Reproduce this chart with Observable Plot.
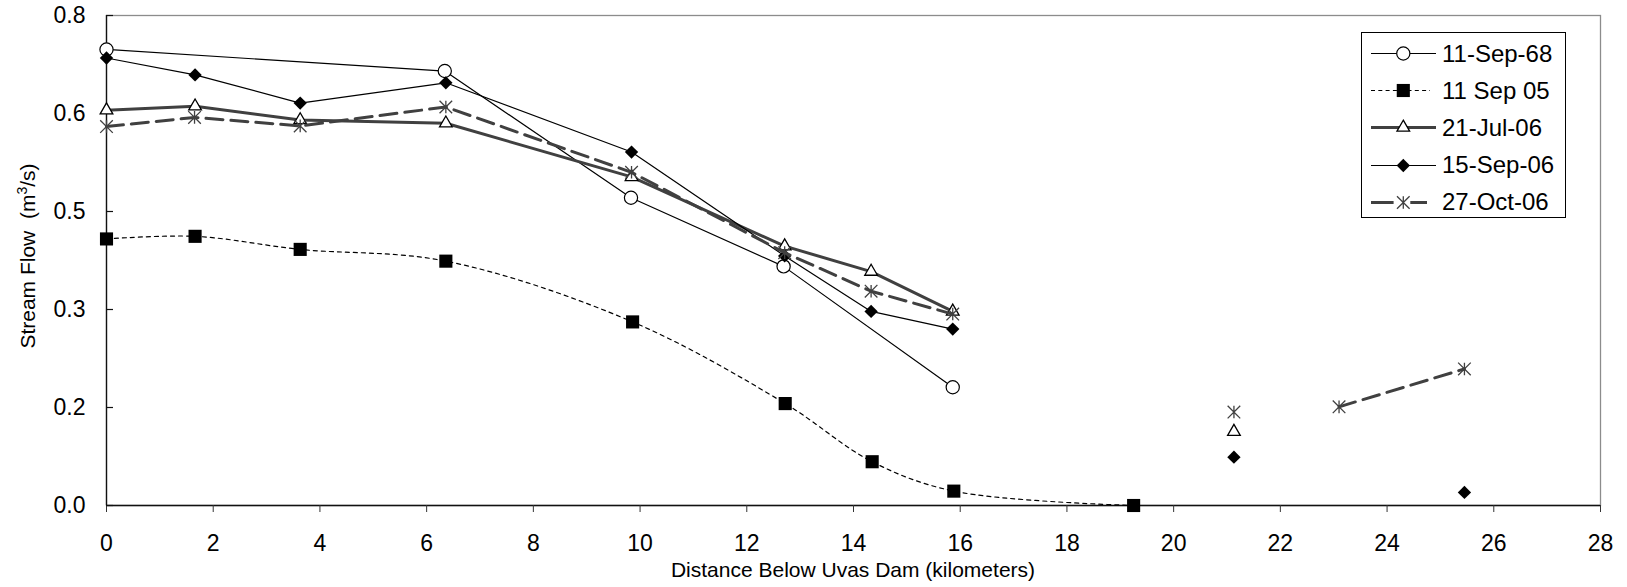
<!DOCTYPE html>
<html>
<head>
<meta charset="utf-8">
<script src="https://cdn.jsdelivr.net/npm/d3@7"></script>
<script src="https://cdn.jsdelivr.net/npm/@observablehq/plot@0.6"></script>
<style>
  body { margin: 0; background: #fff; }
  #chart { position: relative; width: 1627px; height: 587px; font-family: "Liberation Sans", Arial, sans-serif; color: #000; }
  .ytitle { position: absolute; left: 28px; top: 256px; transform: translate(-50%, -50%) rotate(-90deg); font-size: 21px; white-space: nowrap; }
  .ytitle sup { font-size: 14px; vertical-align: 8px; line-height: 0; }
  .xtitle { position: absolute; left: 853px; top: 570px; transform: translate(-50%, -50%); font-size: 21px; white-space: nowrap; }
  .legend { position: absolute; left: 1361px; top: 32px; width: 205px; height: 186px; box-sizing: border-box; border: 1px solid #000; background: #fff; padding-top: 2px; }
  .row { display: flex; align-items: center; height: 37.2px; }
  .row svg { flex: none; display: block; }
  .row span { font-size: 24px; line-height: 1; white-space: nowrap; }
</style>
</head>
<body>
<div id="chart"></div>
<script>
// ---------------- data ----------------
const seriesNames = ["11-Sep-68", "11 Sep 05", "21-Jul-06", "15-Sep-06", "27-Oct-06"];

const dist1968 = [0, 6.34, 9.83, 12.69, 15.86];
const flow1968 = [0.698, 0.665, 0.471, 0.366, 0.181];

const dist2005 = [0, 1.66, 3.63, 6.36, 9.86, 12.72, 14.35, 15.88, 19.25];
const flow2005 = [0.408, 0.412, 0.392, 0.374, 0.281, 0.156, 0.067, 0.022, 0.0];

const distJul06 = [0, 1.66, 3.63, 6.36, 9.84, 12.71, 14.33, 15.86, null, 21.13];
const flowJul06 = [0.605, 0.611, 0.590, 0.585, 0.503, 0.397, 0.358, 0.297, null, 0.113];

const distSep06 = [0, 1.66, 3.63, 6.36, 9.84, 12.71, 14.33, 15.86, null, 21.13, null, 25.45];
const flowSep06 = [0.685, 0.659, 0.616, 0.647, 0.541, 0.382, 0.297, 0.270, null, 0.074, null, 0.020];

const distOct06 = [0, 1.65, 3.63, 6.36, 9.84, 12.71, 14.33, 15.86, null, 21.13, null, 23.10, 25.45];
const flowOct06 = [0.580, 0.594, 0.581, 0.610, 0.510, 0.387, 0.328, 0.293, null, 0.143, null, 0.151, 0.209];

const xTicks = [0, 2, 4, 6, 8, 10, 12, 14, 16, 18, 20, 22, 24, 26, 28];
const yTicks = [0, 0.15, 0.30, 0.45, 0.60, 0.75];
const yTickLabels = ["0.0", "0.2", "0.3", "0.5", "0.6", "0.8"];

const xTitle = "Distance Below Uvas Dam (kilometers)";

// ---------------- table ----------------
const seriesData = [
  {name: seriesNames[0], dist: dist1968, flow: flow1968},
  {name: seriesNames[1], dist: dist2005, flow: flow2005},
  {name: seriesNames[2], dist: distJul06, flow: flowJul06},
  {name: seriesNames[3], dist: distSep06, flow: flowSep06},
  {name: seriesNames[4], dist: distOct06, flow: flowOct06}
];
const table = seriesData.flatMap(s => s.dist.map((d, i) => ({series: s.name, dist: d, flow: s.flow[i]})));

// ---------------- styles ----------------
const asterisk = {
  draw(ctx, size) {
    const h = Math.sqrt(size / Math.PI);
    ctx.moveTo(0, -h); ctx.lineTo(0, h);
    ctx.moveTo(-h, -h); ctx.lineTo(h, h);
    ctx.moveTo(-h, h); ctx.lineTo(h, -h);
  }
};
const styles = {
  "11-Sep-68": {stroke: "#000", width: 1.2, dash: null, curve: "linear", symbol: "circle", d3sym: d3.symbolCircle, r: 6.6, fill: "#fff", mstroke: "#000", mwidth: 1.2, legDash: null, legX2: 74},
  "11 Sep 05": {stroke: "#000", width: 1.2, dash: "4,4", curve: "catmull-rom", symbol: "square", d3sym: d3.symbolSquare, r: 7.4, fill: "#000", mstroke: "none", mwidth: 0, legDash: "4,3.3", legX2: 68},
  "21-Jul-06": {stroke: "#404040", width: 3, dash: null, curve: "linear", symbol: "triangle", d3sym: d3.symbolTriangle, r: 4.7, fill: "#fff", mstroke: "#000", mwidth: 1.3, legDash: null, legX2: 74},
  "15-Sep-06": {stroke: "#000", width: 1.2, dash: null, curve: "linear", symbol: "diamond2", d3sym: d3.symbolDiamond2, r: 6.0, fill: "#000", mstroke: "none", mwidth: 0, legDash: null, legX2: 74},
  "27-Oct-06": {stroke: "#404040", width: 3, dash: "17,8", curve: "linear", symbol: asterisk, d3sym: asterisk, r: 6.3, fill: "none", mstroke: "#404040", mwidth: 1.3, legDash: "22.6,16.7", legX2: 65}
};

// ---------------- plot ----------------
const W = 1627, H = 587, mL = 106, mR = 27, mT = 15, mB = 82;
const innerW = W - mL - mR;

const marks = [
  Plot.frame({stroke: "#8c8c8c", strokeWidth: 1.3}),
  Plot.ruleX([0], {stroke: "#111", strokeWidth: 1.3}),
  Plot.ruleY([0], {stroke: "#111", strokeWidth: 1.3}),
  Plot.axisX({ticks: xTicks, tickSize: 7, tickPadding: 22, stroke: "#333", label: null, tickFormat: d => String(d)}),
  Plot.axisY({ticks: yTicks, tickSize: 0, tickPadding: 21, label: null, tickFormat: d => yTickLabels[yTicks.indexOf(d)]}),
  Plot.tickY(yTicks, {y: d => d, stroke: "#111", strokeWidth: 1.2, insetRight: innerW - 7})
];

for (const name of seriesNames) {
  const s = styles[name];
  const rows = table.filter(r => r.series === name);
  marks.push(Plot.line(rows, {x: "dist", y: "flow", stroke: s.stroke, strokeWidth: s.width, strokeDasharray: s.dash, curve: s.curve}));
  marks.push(Plot.dot(rows, {x: "dist", y: "flow", symbol: s.symbol, r: s.r, fill: s.fill, stroke: s.mstroke, strokeWidth: s.mwidth}));
}

const plot = Plot.plot({
  width: W, height: H,
  marginLeft: mL, marginRight: mR, marginTop: mT, marginBottom: mB,
  style: {fontSize: "23px", fontFamily: "'Liberation Sans', Arial, sans-serif", background: "#fff", color: "#000", overflow: "visible"},
  x: {domain: [0, 28]},
  y: {domain: [0, 0.75]},
  marks
});

const chart = document.getElementById("chart");
chart.appendChild(plot);

// titles
const yt = document.createElement("div");
yt.className = "ytitle";
yt.innerHTML = "Stream Flow&nbsp; (m<sup>3</sup>/s)";
chart.appendChild(yt);

const xt = document.createElement("div");
xt.className = "xtitle";
xt.textContent = xTitle;
chart.appendChild(xt);

// legend
const legend = document.createElement("div");
legend.className = "legend";
for (const name of seriesNames) {
  const s = styles[name];
  const row = document.createElement("div");
  row.className = "row";
  const svg = d3.create("svg").attr("width", 80).attr("height", 37);
  svg.append("line").attr("x1", 9).attr("x2", s.legX2).attr("y1", 18.5).attr("y2", 18.5)
    .attr("stroke", s.stroke).attr("stroke-width", s.width).attr("stroke-dasharray", s.legDash);
  svg.append("path").attr("transform", "translate(41.3,18.5)")
    .attr("d", d3.symbol(s.d3sym, Math.PI * s.r * s.r)())
    .attr("fill", s.fill).attr("stroke", s.mstroke).attr("stroke-width", s.mwidth);
  row.appendChild(svg.node());
  const span = document.createElement("span");
  span.textContent = name;
  row.appendChild(span);
  legend.appendChild(row);
}
chart.appendChild(legend);
</script>
</body>
</html>
